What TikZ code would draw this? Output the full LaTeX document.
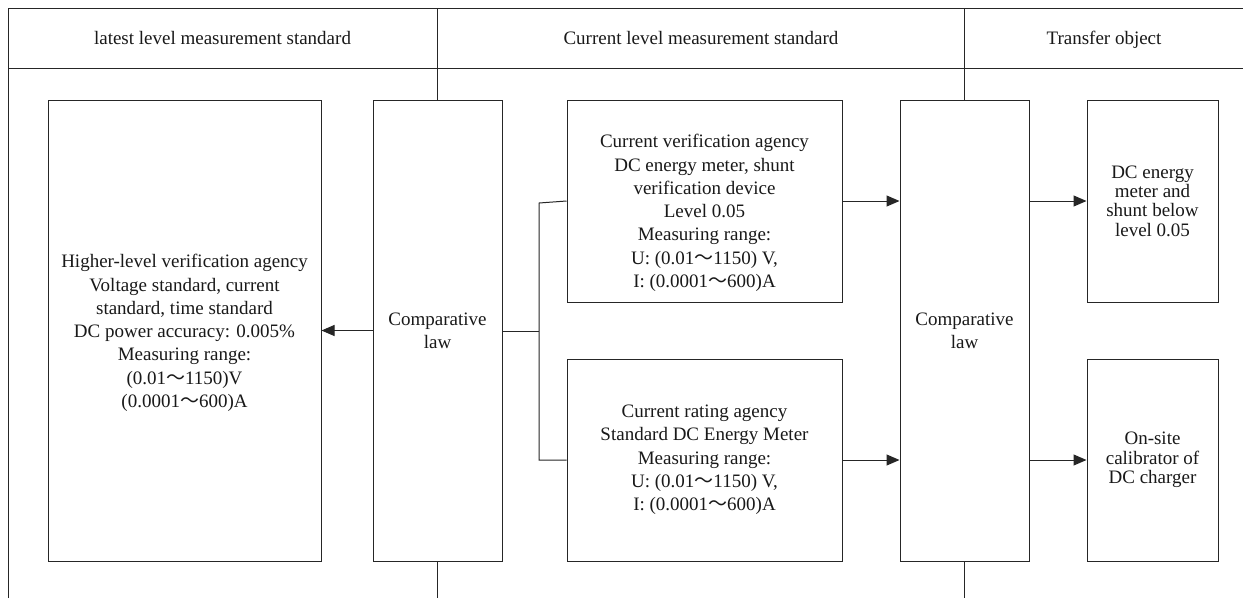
\documentclass[tikz,border=0pt]{standalone}
\usepackage{fontspec}
\setmainfont{Liberation Serif}
\newfontfamily\cjk{Noto Sans CJK SC}
\usetikzlibrary{arrows.meta}
\newcommand{\wt}{{\cjk ～}}
\tikzset{
  ln/.style={line width=1pt, draw=black!85},
  arr/.style={ln, -{Triangle[length=13pt,width=11pt]}},
  box/.style={ln, rectangle, inner sep=0pt},
  txt/.style={align=center, font=\fontsize{19}{23.3}\selectfont, text=black!90},
  tighttxt/.style={align=center, font=\fontsize{19}{19.3}\selectfont, text=black!90},
}
\begin{document}
\begin{tikzpicture}[x=1pt,y=-1pt]
\useasboundingbox (0,0) rectangle (1243,598);
\fill[white] (0,0) rectangle (1243,598);
% frame
\coordinate (fl) at (8,598);
\coordinate (ftl) at (8,8);
\coordinate (ftr) at (1250,8);
\coordinate (hl) at (8,68);
\coordinate (hr) at (1250,68);
\draw[ln] (fl) -- (ftl) -- (ftr);
\draw[ln] (hl) -- (hr);
% headers
\node[txt, anchor=base] (h1) at (222.5,44) {latest level measurement standard};
\node[txt, anchor=base] (h2) at (701,44) {Current level measurement standard};
\node[txt, anchor=base] (h3) at (1104,44) {Transfer object};
% boxes
\node[box, draw, minimum width=273pt, minimum height=461pt] (b1) at (184.5,330.5) {};
\node[txt] (b1t) at (184.5,333) {Higher-level verification agency\\Voltage standard, current\\standard, time standard\\DC power accuracy: 0.005\%\\Measuring range:\\(0.01\wt1150)V\\(0.0001\wt600)A};
\node[box, draw, minimum width=129pt, minimum height=461pt, txt] (c1) at (437.5,330.5) {Comparative\\law};
\node[box, draw, minimum width=275pt, minimum height=202pt] (m1) at (704.5,201) {};
\node[txt] (m1t) at (704.5,213) {Current verification agency\\DC energy meter, shunt\\verification device\\Level 0.05\\Measuring range:\\U: (0.01\wt1150) V,\\I: (0.0001\wt600)A};
\node[box, draw, minimum width=275pt, minimum height=202pt, txt] (m2) at (704.5,460) {Current rating agency\\Standard DC Energy Meter\\Measuring range:\\U: (0.01\wt1150) V,\\I: (0.0001\wt600)A};
\node[box, draw, minimum width=129pt, minimum height=461pt, txt] (c2) at (964.5,330.5) {Comparative\\law};
\node[box, draw, minimum width=131pt, minimum height=202pt, tighttxt] (r1) at (1152.5,201) {DC energy\\meter and\\shunt below\\level 0.05};
\node[box, draw, minimum width=131pt, minimum height=202pt, tighttxt] (r2) at (1152.5,460) {On-site\\calibrator of\\DC charger};
% dividers
\coordinate (d1t) at (437.5,8);
\coordinate (d1b) at (437.5,598);
\coordinate (d2t) at (964.5,8);
\coordinate (d2b) at (964.5,598);
\draw[ln] (d1t) -- (c1.north);
\draw[ln] (c1.south) -- (d1b);
\draw[ln] (d2t) -- (c2.north);
\draw[ln] (c2.south) -- (d2b);
% connectors
\draw[arr] (c1.west) -- (b1.east);
\coordinate (j) at (539,331);
\coordinate (jt) at (539,203);
\draw[ln] (c1.east |- j) -- (j);
\draw[ln] (m1.west |- 0,201) -- (jt) -- (j |- m2.west) -- (m2.west);
\draw[arr] (m1.east) -- (m1.east -| c2.west);
\draw[arr] (m2.east) -- (m2.east -| c2.west);
\draw[arr] (r1.west -| c2.east) -- (r1.west);
\draw[arr] (r2.west -| c2.east) -- (r2.west);
\end{tikzpicture}
\end{document}
